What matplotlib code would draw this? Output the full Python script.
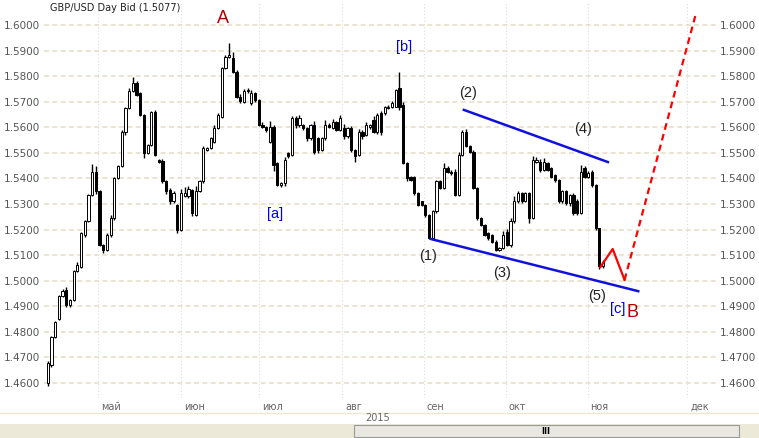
import matplotlib
matplotlib.use("Agg")
import matplotlib.pyplot as plt
from matplotlib.patches import Rectangle

# daily candles, GBP/USD (open, close)
OPEN = [1.460, 1.467, 1.478, 1.485, 1.494, 1.4964, 1.4906, 1.4925, 1.5036, 1.5055,
        1.518, 1.5232, 1.5336, 1.5427, 1.535, 1.514, 1.512, 1.518, 1.5245, 1.540,
        1.5447, 1.558, 1.5674, 1.574, 1.5772, 1.5735, 1.5648, 1.550, 1.5531, 1.5661,
        1.5473, 1.547, 1.5388, 1.5355, 1.531, 1.5297, 1.520, 1.533, 1.5331, 1.5355,
        1.5258, 1.535, 1.5388, 1.5512, 1.5518, 1.5544, 1.5596, 1.5642, 1.5831, 1.5876,
        1.5870, 1.5818, 1.572, 1.570, 1.574, 1.5694, 1.5733, 1.5707, 1.5609, 1.560,
        1.5544, 1.5603, 1.5460, 1.5375, 1.5381, 1.5499, 1.549, 1.5635, 1.5609, 1.5609,
        1.5596, 1.5557, 1.5609, 1.5557, 1.5512, 1.5557, 1.5609, 1.5596, 1.5622, 1.559,
        1.5596, 1.5564, 1.5596, 1.5512, 1.5492, 1.5583, 1.5570, 1.5603, 1.5629, 1.5583,
        1.5655, 1.5655, 1.5675, 1.5681, 1.5681, 1.5753, 1.5688, 1.546, 1.5407, 1.5407,
        1.5342, 1.5310, 1.5297, 1.5258, 1.5166, 1.5271, 1.5388, 1.5362, 1.5440, 1.5427,
        1.5427, 1.5336, 1.5492, 1.5583, 1.5525, 1.5505, 1.5362, 1.5245, 1.5219, 1.5186,
        1.5179, 1.5153, 1.5121, 1.5127, 1.5192, 1.5140, 1.5232, 1.531, 1.5342, 1.5310,
        1.5342, 1.5245, 1.5466, 1.5466, 1.5433, 1.5460, 1.5440, 1.5414, 1.5394, 1.5310,
        1.5349, 1.5303, 1.5336, 1.5310, 1.5264, 1.5440, 1.5407, 1.5427, 1.5375, 1.5205,
        1.5056]
CLOSE = [1.468, 1.478, 1.484, 1.494, 1.496, 1.4906, 1.4925, 1.5036, 1.5062, 1.5186,
         1.5232, 1.5336, 1.5427, 1.5349, 1.514, 1.512, 1.5179, 1.5245, 1.5401, 1.5447,
         1.5583, 1.5674, 1.574, 1.5772, 1.5727, 1.5648, 1.5499, 1.5531, 1.5661, 1.5492,
         1.5466, 1.5388, 1.535, 1.531, 1.5342, 1.5199, 1.5342, 1.5342, 1.5358, 1.5264,
         1.5349, 1.5388, 1.5518, 1.5518, 1.5557, 1.5596, 1.5648, 1.5831, 1.5876, 1.5883,
         1.5818, 1.572, 1.5701, 1.574, 1.5746, 1.5733, 1.5707, 1.5609, 1.5603, 1.559,
         1.5603, 1.5453, 1.5375, 1.5381, 1.5473, 1.5486, 1.5635, 1.5609, 1.5635, 1.5596,
         1.5557, 1.5609, 1.5505, 1.5512, 1.5557, 1.5609, 1.5603, 1.5622, 1.559, 1.5635,
         1.5564, 1.5596, 1.5512, 1.5486, 1.5583, 1.5564, 1.5609, 1.5609, 1.5583, 1.5648,
         1.5583, 1.5681, 1.5681, 1.5694, 1.5746, 1.5681, 1.546, 1.5401, 1.5394, 1.5342,
         1.5297, 1.5297, 1.5258, 1.5166, 1.5271, 1.5388, 1.5362, 1.5440, 1.5427, 1.5420,
         1.5336, 1.5492, 1.5583, 1.5525, 1.5505, 1.5362, 1.5245, 1.5219, 1.5180, 1.5166,
         1.5153, 1.5121, 1.5127, 1.5179, 1.5140, 1.5232, 1.5310, 1.5342, 1.5310, 1.5342,
         1.5245, 1.5473, 1.5473, 1.5433, 1.5466, 1.5433, 1.5407, 1.5394, 1.5310, 1.5349,
         1.5303, 1.5336, 1.5264, 1.5264, 1.5427, 1.5407, 1.5420, 1.5375, 1.5205, 1.5056,
         1.5075]
# wick extensions beyond the body, in pips (upper, lower)
WICK_UP = [5, 4, 3, 6, 8, 10, 3, 6, 12, 4, 6, 4, 30, 20, 5, 3, 6, 10, 5, 4,
           5, 6, 12, 25, 10, 4, 3, 5, 4, 8, 3, 5, 4, 6, 10, 4, 15, 25, 12, 5,
           20, 5, 10, 5, 4, 12, 6, 4, 5, 45, 25, 5, 12, 10, 6, 12, 6, 4, 10, 6,
           20, 6, 3, 4, 10, 6, 10, 10, 12, 4, 6, 4, 15, 5, 4, 20, 6, 12, 4, 12,
           15, 5, 8, 4, 10, 6, 10, 4, 15, 8, 10, 4, 8, 10, 5, 65, 10, 5, 4, 3,
           4, 3, 4, 3, 5, 4, 5, 20, 10, 4, 10, 12, 8, 10, 5, 5, 4, 5, 4, 3,
           5, 5, 4, 15, 10, 12, 20, 8, 6, 4, 4, 15, 10, 8, 15, 5, 4, 4, 5, 6,
           4, 4, 6, 10, 25, 10, 10, 5, 5, 3, 4]
WICK_DN = [12, 8, 4, 5, 3, 8, 8, 5, 3, 4, 10, 4, 3, 10, 6, 10, 5, 8, 6, 3,
           4, 10, 4, 3, 4, 3, 20, 4, 5, 6, 5, 6, 12, 10, 5, 12, 5, 3, 6, 10,
           5, 4, 6, 5, 4, 6, 4, 5, 4, 4, 4, 5, 8, 4, 5, 6, 10, 4, 6, 8,
           6, 25, 5, 8, 10, 6, 4, 10, 6, 5, 10, 6, 10, 12, 6, 5, 4, 4, 6, 5,
           8, 6, 10, 20, 4, 8, 6, 10, 5, 10, 12, 6, 5, 4, 3, 15, 4, 10, 5, 6,
           4, 5, 8, 4, 6, 5, 5, 4, 6, 5, 4, 3, 6, 4, 5, 4, 6, 5, 4, 6,
           5, 6, 5, 4, 6, 8, 5, 6, 5, 4, 20, 5, 6, 6, 4, 5, 6, 8, 5, 6,
           6, 10, 6, 8, 5, 4, 5, 8, 6, 10, 6]

YTICKS = [1.46, 1.47, 1.48, 1.49, 1.50, 1.51, 1.52, 1.53, 1.54, 1.55, 1.56, 1.57, 1.58, 1.59, 1.60]
MONTHS = ["май", "июн", "июл", "авг", "сен", "окт", "ноя", "дек"]
MONTH_POS = [13.7, 35.9, 57.2, 79.5, 101.6, 123.7, 145.8, 172.8]

# wave markup: (label, bar index, price, colour, size)
LABELS = [("A", 47.4, 1.6027, "#b00000", 13), ("[b]", 96.2, 1.5914, "#0000e0", 10.5),
          ("[a]", 61.5, 1.5261, "#0000e0", 10.5), ("(1)", 102.7, 1.5097, "#222222", 10.5),
          ("(2)", 113.5, 1.5734, "#222222", 10.5), ("(3)", 122.6, 1.5030, "#222222", 10.5),
          ("(4)", 144.7, 1.5593, "#222222", 10.5), ("(5)", 148.5, 1.4940, "#222222", 10.5),
          ("[c]", 153.9, 1.4889, "#0000e0", 10.5), ("B", 158.0, 1.4874, "#b00000", 13)]
UPPER_X, UPPER_Y = [112.4, 151.3], [1.5668, 1.5464]
LOWER_X, LOWER_Y = [103.5, 159.5], [1.5163, 1.4959]
RED_X, RED_Y = [149.3, 152.6, 155.8], [1.5054, 1.5124, 1.5003]
PROJ_X, PROJ_Y = [155.8, 174.9], [1.5003, 1.6035]

W, H = 759, 438
fig = plt.figure(figsize=(W / 100, H / 100), dpi=100)
fig.patch.set_facecolor("white")
ax = fig.add_axes([44 / W, 1 - 398 / H, (716 - 44) / W, (398 - 3) / H])
ax.set_xlim(-1, 180.5)
lo_y, hi_y = 1.6 - (398 - 25) / 2557, 1.6 + (25 - 3) / 2557
ax.set_ylim(lo_y, hi_y)

for t in YTICKS:
    ax.axhline(t, color="#e6dfc8", lw=1.2, ls=(0, (3, 2)), zorder=0)
for p in MONTH_POS:
    ax.axvline(p, color="#e0dcd0", lw=0.8, ls=(0, (1, 2)), zorder=0)

for i, (o, c) in enumerate(zip(OPEN, CLOSE)):
    top, bot = max(o, c), min(o, c)
    ax.vlines(i, bot - WICK_DN[i] / 10000, top + WICK_UP[i] / 10000, color="black", lw=1, zorder=2)
    hgt = max(top - bot, 0.0002)
    ax.add_patch(Rectangle((i - 0.3, bot), 0.6, hgt, facecolor="white" if c >= o else "black",
                           edgecolor="black", lw=0.7, zorder=3))

ax.plot(UPPER_X, UPPER_Y, color="#1010e0", lw=1.8, zorder=4)
ax.plot(LOWER_X, LOWER_Y, color="#1010e0", lw=1.8, zorder=4)
ax.plot(RED_X, RED_Y, color="#ff0000", lw=1.6, zorder=4)
ax.plot(PROJ_X, PROJ_Y, color="#ff0000", lw=1.6, ls=(0, (3, 2)), zorder=4)
for lab, x, y, col, fs in LABELS:
    ax.text(x, y, lab, color=col, fontsize=fs, ha="center", va="center",
            family="Liberation Sans", zorder=5)

ax.set_yticks(YTICKS)
ax.set_yticklabels([f"{t:.4f}" for t in YTICKS])
ax.tick_params(axis="y", labelsize=7.5, labelcolor="#555555", length=0, labelright=True, pad=3)
ax.set_xticks([])
for s in ax.spines.values():
    s.set_visible(False)

fig.text(50 / W, 1 - 8 / H, "GBP/USD Day Bid (1.5077)", fontsize=7, va="center", color="#222222")
for m, p in zip(MONTHS, MONTH_POS):
    xf = ax.transData.transform((p, 0))[0] / W
    fig.text(xf + 0.004, 1 - 407 / H, m, fontsize=7, color="#666666", va="center")
fig.text(378 / W, 1 - 418 / H, "2015", fontsize=7, color="#666666", va="center", ha="center")
fig.add_artist(plt.Line2D([0, 1], [1 - 413 / H, 1 - 413 / H], color="#ece6d2", lw=1))
fig.patches.append(Rectangle((0, 0), 1, 14 / H, transform=fig.transFigure,
                             facecolor="#ece9d8", edgecolor="none"))
fig.patches.append(Rectangle((354 / W, 1 / H), 385 / W, 12 / H, transform=fig.transFigure,
                             facecolor="#e8e8e0", edgecolor="#9a9a9a", lw=0.8))
fig.text(546 / W, 7 / H, "III", fontsize=6, ha="center", va="center", weight="bold")
fig.savefig("out.png", dpi=100)
